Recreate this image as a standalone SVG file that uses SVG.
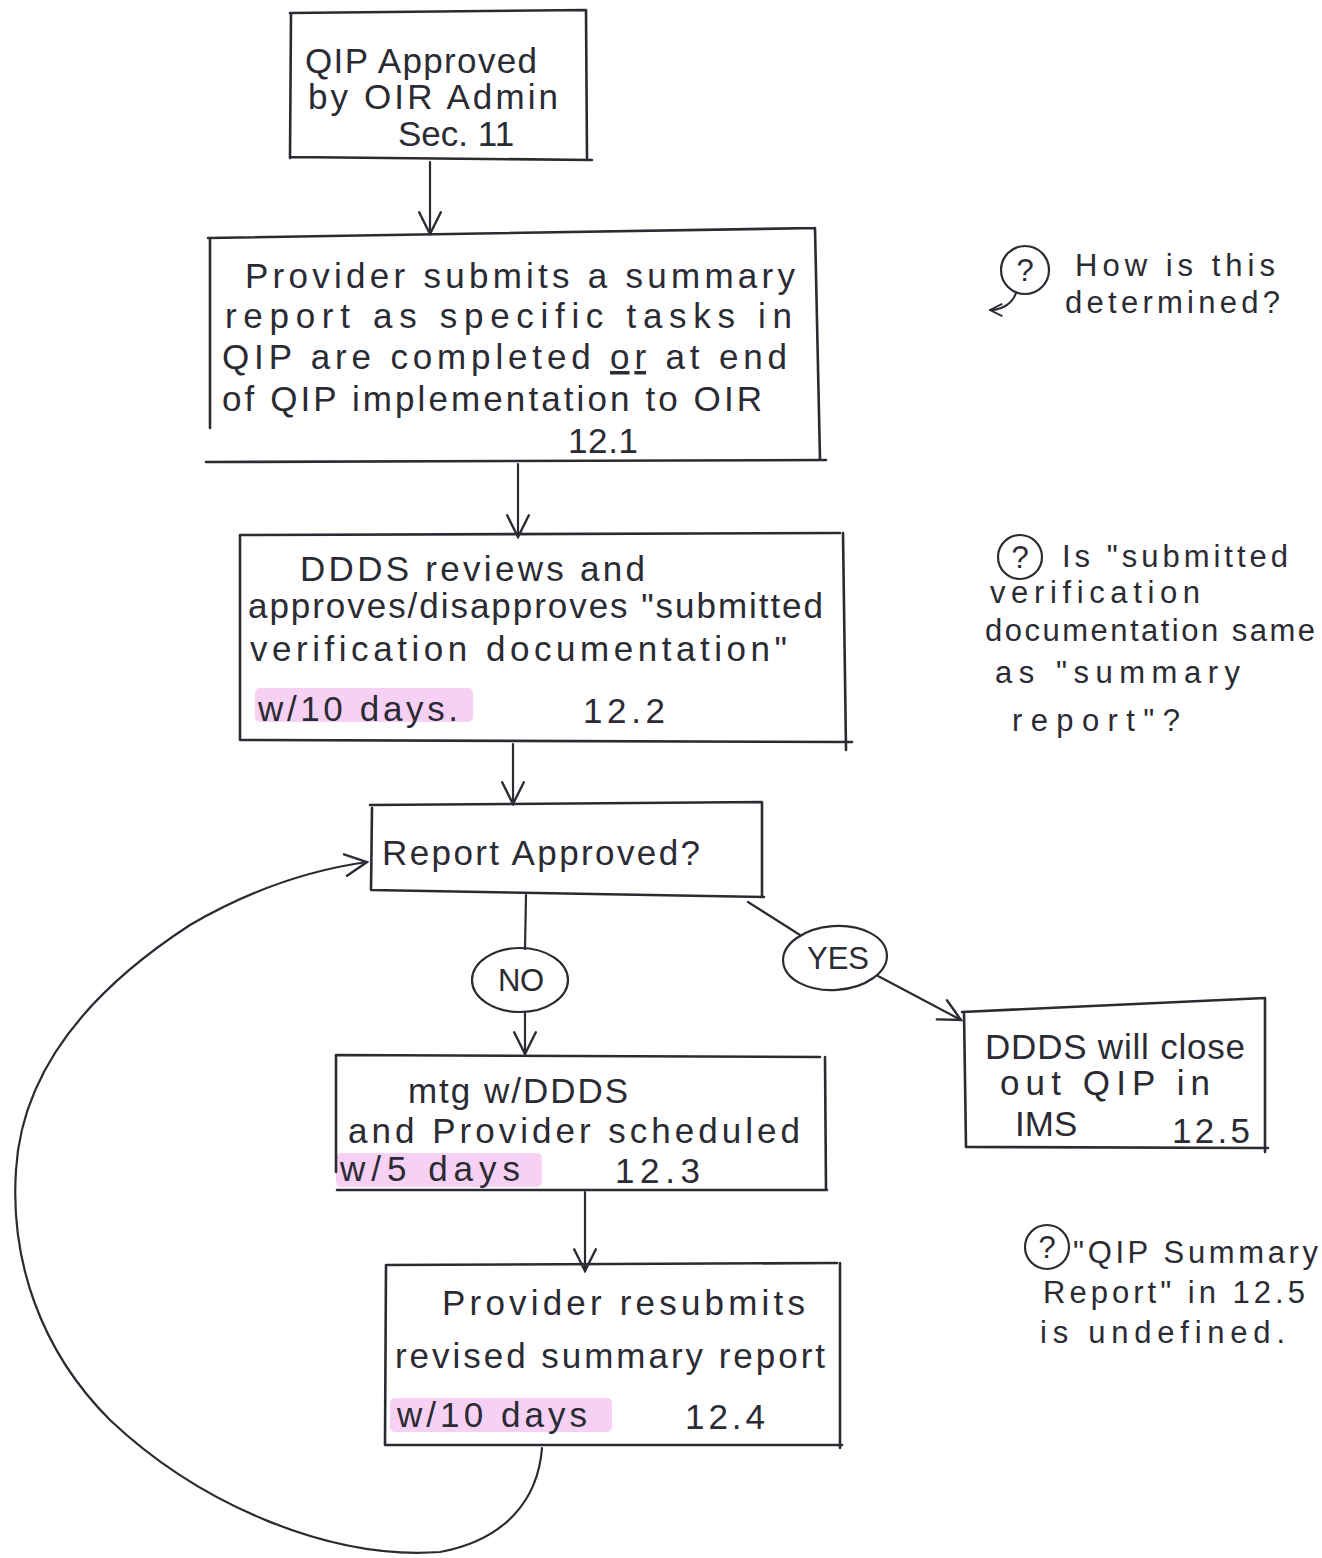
<svg xmlns="http://www.w3.org/2000/svg" width="1322" height="1558" viewBox="0 0 1322 1558">
  <defs>
    <style>
      .box { fill: none; stroke: #2b2b33; stroke-width: 2.6; stroke-linecap: round; stroke-linejoin: round; }
      .edge { fill: none; stroke: #2b2b33; stroke-width: 2.2; stroke-linecap: round; }
      .oval { fill: none; stroke: #2b2b33; stroke-width: 2.2; }
      .t { font-family: "Liberation Sans", Arial, sans-serif; font-size: 35px; fill: #2b2b33; }
      .n { font-family: "Liberation Sans", Arial, sans-serif; font-size: 31px; fill: #2b2b33; }
      .hl { fill: #f3bdee; opacity: 0.7; }
    </style>
    <marker id="arrow" viewBox="0 0 12 12" refX="11" refY="6" markerWidth="14" markerHeight="14" markerUnits="userSpaceOnUse" orient="auto">
      <path d="M1,1 L11,6 L1,11" fill="none" stroke="#2b2b33" stroke-width="1.6" stroke-linecap="round"/>
    </marker>
    <marker id="arrowBig" viewBox="0 0 12 12" refX="11" refY="6" markerWidth="26" markerHeight="26" markerUnits="userSpaceOnUse" orient="auto">
      <path d="M1,1 L11,6 L1,11" fill="none" stroke="#2b2b33" stroke-width="1.1" stroke-linecap="round"/>
    </marker>
  </defs>

  <rect width="1322" height="1558" fill="#ffffff"/>

  <!-- connectors -->
  <g id="connectors">
    <line class="edge" x1="430" y1="162" x2="430" y2="234" marker-end="url(#arrowBig)"/>
    <line class="edge" x1="518" y1="464" x2="518" y2="537" marker-end="url(#arrowBig)"/>
    <line class="edge" x1="513" y1="744" x2="513" y2="804" marker-end="url(#arrowBig)"/>
    <line class="edge" x1="526" y1="895" x2="525" y2="949"/>
    <line class="edge" x1="525" y1="1012" x2="525" y2="1054" marker-end="url(#arrowBig)"/>
    <line class="edge" x1="748" y1="902" x2="800" y2="935"/>
    <line class="edge" x1="878" y1="976" x2="961" y2="1020" marker-end="url(#arrowBig)"/>
    <line class="edge" x1="585" y1="1192" x2="585" y2="1271" marker-end="url(#arrowBig)"/>
    <!-- return loop from 12.4 back to the decision -->
    <path class="edge" d="M542,1448 C538,1500 505,1540 440,1552 C330,1560 200,1505 110,1420 C40,1350 10,1260 16,1170 C22,1070 90,990 190,925 C250,890 310,870 367,862" marker-end="url(#arrowBig)"/>
  </g>

  <!-- QIP approved -->
  <g id="node-sec11">
    <path class="box" d="M290,13 L585,10 M291,13 L290,158 M290,157 L592,160 M586,10 L587,158"/>
    <text class="t" x="305" y="73" font-size="28" textLength="232">QIP Approved</text>
    <text class="t" x="308" y="109" font-size="28" textLength="250">by OIR Admin</text>
    <text class="t" x="398" y="146" font-size="26">Sec. 11</text>
  </g>

  <!-- 12.1 -->
  <g id="node-12-1">
    <path class="box" d="M208,238 L815,228 M210,238 L210,428 M206,462 L826,460 M815,228 L820,460"/>
    <text class="t" x="245" y="288" textLength="550">Provider submits a summary</text>
    <text class="t" x="225" y="328" textLength="567">report as specific tasks in</text>
    <text class="t" x="222" y="369" textLength="565">QIP are completed <tspan text-decoration="underline">or</tspan> at end</text>
    <text class="t" x="222" y="411" textLength="540">of QIP implementation to OIR</text>
    <text class="t" x="568" y="453" textLength="70">12.1</text>
  </g>

  <!-- 12.2 -->
  <g id="node-12-2">
    <rect class="hl" x="255" y="688" width="218" height="34" rx="5"/>
    <path class="box" d="M240,535 L840,533 M240,535 L240,740 M240,740 L852,742 M843,533 L846,750"/>
    <text class="t" x="300" y="581" textLength="345">DDDS reviews and</text>
    <text class="t" x="248" y="618" textLength="575">approves/disapproves "submitted</text>
    <text class="t" x="250" y="661" textLength="537">verification documentation"</text>
    <text class="t" x="258" y="721" textLength="200">w/10 days.</text>
    <text class="t" x="583" y="723" textLength="82">12.2</text>
  </g>

  <!-- decision -->
  <g id="node-decision">
    <path class="box" d="M370,805 L762,802 M372,808 L371,890 M371,890 L764,897 M762,802 L762,897"/>
    <text class="t" x="382" y="865" textLength="318">Report Approved?</text>
  </g>

  <g id="node-no">
    <ellipse class="oval" cx="520" cy="980" rx="48" ry="32"/>
    <text class="n" x="521" y="991" text-anchor="middle" textLength="46">NO</text>
  </g>

  <g id="node-yes">
    <ellipse class="oval" cx="835" cy="958" rx="52" ry="32" transform="rotate(-4 835 958)"/>
    <text class="n" x="838" y="969" text-anchor="middle" textLength="62">YES</text>
  </g>

  <!-- 12.3 -->
  <g id="node-12-3">
    <rect class="hl" x="336" y="1153" width="206" height="34" rx="5"/>
    <path class="box" d="M336,1055 L820,1057 M336,1055 L336,1172 M337,1190 L827,1190 M825,1057 L826,1190"/>
    <text class="t" x="408" y="1103" textLength="220">mtg w/DDDS</text>
    <text class="t" x="348" y="1143" textLength="452">and Provider scheduled</text>
    <text class="t" x="340" y="1181" textLength="180">w/5 days</text>
    <text class="t" x="615" y="1183" textLength="85">12.3</text>
  </g>

  <!-- 12.5 -->
  <g id="node-12-5">
    <path class="box" d="M962,1012 L1265,998 M964,1012 L966,1147 M966,1147 L1268,1148 M1265,998 L1265,1152"/>
    <text class="t" x="985" y="1059" textLength="260">DDDS will close</text>
    <text class="t" x="1000" y="1095" textLength="210">out QIP in</text>
    <text class="t" x="1015" y="1136">IMS</text>
    <text class="t" x="1172" y="1143" textLength="78">12.5</text>
  </g>

  <!-- 12.4 -->
  <g id="node-12-4">
    <rect class="hl" x="390" y="1398" width="222" height="34" rx="5"/>
    <path class="box" d="M386,1265 L837,1263 M386,1265 L385,1445 M385,1445 L842,1445 M840,1263 L840,1448"/>
    <text class="t" x="442" y="1315" textLength="363">Provider resubmits</text>
    <text class="t" x="395" y="1368" textLength="430">revised summary report</text>
    <text class="t" x="397" y="1427" textLength="190">w/10 days</text>
    <text class="t" x="685" y="1429" textLength="80">12.4</text>
  </g>

  <!-- margin questions -->
  <g id="note-1">
    <circle class="oval" cx="1025" cy="270" r="24"/>
    <text class="n" x="1025" y="281" text-anchor="middle">?</text>
    <path class="edge" d="M1016,293 C1012,305 1000,310 990,310" marker-end="url(#arrow)"/>
    <text class="n" x="1075" y="276" font-size="26" textLength="200">How is this</text>
    <text class="n" x="1065" y="313" font-size="26" textLength="215">determined?</text>
  </g>

  <g id="note-2">
    <circle class="oval" cx="1020" cy="557" r="22"/>
    <text class="n" x="1020" y="568" text-anchor="middle">?</text>
    <text class="n" x="1062" y="567" textLength="226">Is "submitted</text>
    <text class="n" x="990" y="603" textLength="210">verification</text>
    <text class="n" x="985" y="641" textLength="330">documentation same</text>
    <text class="n" x="995" y="683" textLength="245">as "summary</text>
    <text class="n" x="1012" y="731" textLength="168">report"?</text>
  </g>

  <g id="note-3">
    <circle class="oval" cx="1047" cy="1247" r="22"/>
    <text class="n" x="1047" y="1258" text-anchor="middle">?</text>
    <text class="n" x="1073" y="1263" textLength="245">"QIP Summary</text>
    <text class="n" x="1043" y="1303" textLength="262">Report" in 12.5</text>
    <text class="n" x="1040" y="1343" textLength="245">is undefined.</text>
  </g>
</svg>
